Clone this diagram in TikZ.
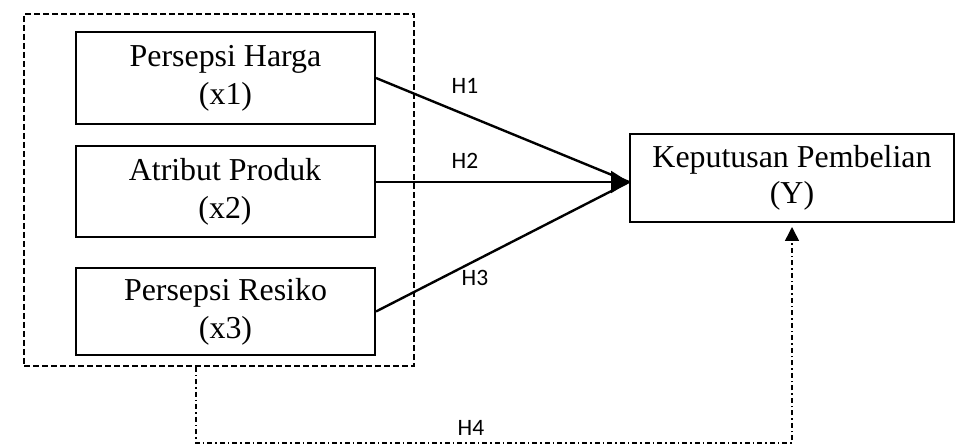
\documentclass[tikz,border=0pt]{standalone}
\usepackage{fontspec}
\setmainfont{Liberation Serif}
\newfontfamily\hfont{Carlito}
\usetikzlibrary{arrows.meta,calc}
\begin{document}
\begin{tikzpicture}[x=1pt,y=-1pt,
  varbox/.style={draw,line width=2pt,minimum width=299pt,align=center,inner sep=0pt,
     font=\fontsize{31.9}{38}\selectfont},
  hlabel/.style={inner sep=0pt,font=\hfont\fontsize{23.5}{26}\selectfont},
  path1/.style={line width=2.4pt},
  grpbox/.style={draw,line width=1.5pt,dash pattern=on 6pt off 3pt,minimum width=390pt,minimum height=352pt,inner sep=0pt},
  dashdot/.style={line width=1.5pt,dash pattern=on 5pt off 3pt on 1.5pt off 3pt}
]
\useasboundingbox (0,0) rectangle (956,446);
\node[grpbox] (grp) at (219,190) {};
\node[varbox,minimum height=92pt] (b1) at (225.5,78) {Persepsi Harga\\(x1)};
\node[varbox,minimum height=91pt] (b2) at (225,191.5) {Atribut Produk\\(x2)};
\node[varbox,minimum height=87pt] (b3) at (225.5,311.5) {Persepsi Resiko\\(x3)};
\node[draw,line width=2pt,minimum width=324pt,minimum height=88pt,align=center,inner sep=0pt,
     font=\fontsize{31.9}{36}\selectfont] (Y) at (792,178) {Keputusan Pembelian\\(Y)};
\coordinate (tip) at (629,182);
\draw[path1] (b1.east) -- (tip);
\draw[path1] (b3.east) -- (tip);
\draw[path1,-{Triangle[length=18pt,width=22pt]}] (b2.east |- tip) -- (tip);
\node[hlabel] (h1) at (465,85.5) {H1};
\node[hlabel] (h2) at (465,160.5) {H2};
\node[hlabel] (h3) at (475,277.5) {H3};
\node[hlabel] (h4) at (471,428) {H4};
\coordinate (c1) at (196,443);
\draw[dashdot,-{Triangle[length=14pt,width=14pt]},shorten >=4pt] (grp.south -| c1) -- (c1) -- (c1 -| Y.south) -- (Y.south);
\end{tikzpicture}
\end{document}
